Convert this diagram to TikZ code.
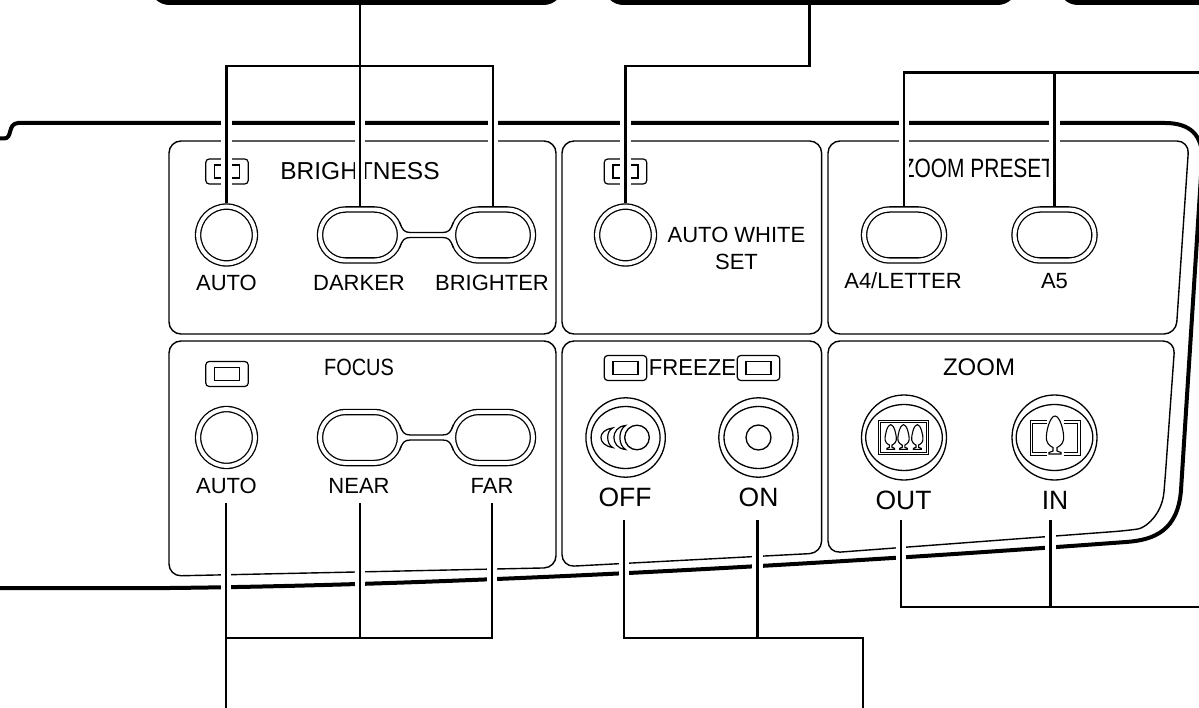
\documentclass[tikz,border=0pt]{standalone}
\usepackage{fontspec}
\setmainfont{Liberation Sans}
\usetikzlibrary{calc, positioning, shapes.misc}

\tikzset{
  panel/.style={draw, line width=1.4pt, rounded corners=12pt},
  housing/.style={draw, line width=4pt},
  topbox/.style={draw, line width=6pt, rounded corners=17pt, minimum height=84pt, minimum width=408pt},
  wire/.style={draw, line width=2.4pt, preaction={draw=white, line width=10.5pt}},
  btnround/.style={draw, circle, line width=1.3pt, double, double distance=3.9pt, minimum size=56.8pt, inner sep=0pt, outer sep=3.3pt},
  btnpill/.style={draw, rounded rectangle, line width=1.3pt, double, double distance=3.9pt, minimum width=80pt, minimum height=51pt, inner sep=0pt, outer sep=3.3pt},
  btnbig/.style={draw, circle, line width=1.3pt, inner sep=0pt, minimum size=#1},
  iconbox/.style={draw, line width=1.2pt, rounded corners=3.5pt, minimum width=42.5pt, minimum height=25pt, inner sep=0pt},
  iconin/.style={draw, line width=1.4pt, minimum width=25pt, minimum height=13pt, inner sep=0pt},
  lbl/.style={inner sep=0pt, align=center, font=\fontsize{22}{27}\selectfont},
  lblbig/.style={inner sep=0pt, font=\fontsize{26.5}{30}\selectfont},
  head/.style={inner sep=0pt, transform shape, xscale=#1},
  zoomtree/.pic={
    \draw[line width=1.1pt, fill=white] (0,-38) .. controls (5,-38) and (9.5,-22) .. (8.5,-14)
      .. controls (7.5,-9) and (3,-7) .. (2,-6.5) -- (2,-3) -- (6,-1.5) -- (6,0) -- (-6,0) -- (-6,-1.5) -- (-2,-3) -- (-2,-6.5)
      .. controls (-3,-7) and (-7.5,-9) .. (-8.5,-14) .. controls (-9.5,-22) and (-5,-38) .. (0,-38) -- cycle;
  }
}

\newcommand{\btnbridge}[2]{
  \path[fill=white] ($(#1.east)+(-3.9,-13)$) .. controls ($(#1.east)+(-1,-5)$) and ($(#1.east)+(1,-2.5)$) .. ($(#1.east)+(7,-2.5)$)
    -- ($(#2.west)+(-7,-2.5)$) .. controls ($(#2.west)+(-1,-2.5)$) and ($(#2.west)+(1,-5)$) .. ($(#2.west)+(3.9,-13)$)
    -- ($(#2.west)+(3.9,13)$) .. controls ($(#2.west)+(1,5)$) and ($(#2.west)+(-1,2.5)$) .. ($(#2.west)+(-7,2.5)$)
    -- ($(#1.east)+(7,2.5)$) .. controls ($(#1.east)+(1,2.5)$) and ($(#1.east)+(-1,5)$) .. ($(#1.east)+(-3.9,13)$) -- cycle;
  \draw[line width=1.3pt] ($(#1.east)+(-3.9,-13)$) .. controls ($(#1.east)+(-1,-5)$) and ($(#1.east)+(1,-2.5)$) .. ($(#1.east)+(7,-2.5)$)
    -- ($(#2.west)+(-7,-2.5)$) .. controls ($(#2.west)+(-1,-2.5)$) and ($(#2.west)+(1,-5)$) .. ($(#2.west)+(3.9,-13)$);
  \draw[line width=1.3pt] ($(#2.west)+(3.9,13)$) .. controls ($(#2.west)+(1,5)$) and ($(#2.west)+(-1,2.5)$) .. ($(#2.west)+(-7,2.5)$)
    -- ($(#1.east)+(7,2.5)$) .. controls ($(#1.east)+(1,2.5)$) and ($(#1.east)+(-1,5)$) .. ($(#1.east)+(-3.9,13)$);
}

\begin{document}
\begin{tikzpicture}[x=1pt, y=-1pt]
  \path[use as bounding box, clip] (0,0) rectangle (1199,708);

  \node[topbox] (boxa) at (356.5,-40) {};
  \node[topbox] (boxb) at (810.5,-40) {};
  \node[topbox] (boxc) at (1265,-40) {};

  \draw[housing] (0,138.5) -- (4,138.5) .. controls (13,138.5) and (7,124) .. (18,123) -- (1165,123)
    .. controls (1190,123) and (1203,135) .. (1202,160) -- (1181,490)
    .. controls (1178,530) and (1155,540) .. (1126,542)
    .. controls (800,566) and (450,585) .. (170,588) -- (0,588);

  \draw[panel] (169,141) -- (556,141) -- (556,334) -- (169,334) -- cycle;
  \draw[panel] (562,141) -- (821.6,141) -- (821.6,334) -- (562,334) -- cycle;
  \draw[panel] (828,141) -- (1189,141) -- (1176,334) -- (828,334) -- cycle;
  \draw[panel] (169,341) -- (556,341) -- (556,567.7) -- (169,576) -- cycle;
  \draw[panel] (562,341) -- (821.6,341) -- (821.6,553) -- (562,566.7) -- cycle;
  \draw[panel] (828,341) -- (1175,341) -- (1165,480) .. controls (1162,515) and (1145,528) .. (1126,530.7) -- (828,553) -- cycle;

  \node[iconbox] (iconbrt) at (227,171.5) {};
  \node[iconin] (iconbrtin) at (iconbrt) {};
  \node[iconbox] (iconaws) at (625.5,171.5) {};
  \node[iconin] (iconawsin) at (iconaws) {};
  \node[iconbox] (iconfoc) at (227,374) {};
  \node[iconin] (iconfocin) at (iconfoc) {};
  \node[iconbox] (iconfra) at (625.5,368) {};
  \node[iconin] (iconfrain) at (iconfra) {};
  \node[iconbox] (iconfrb) at (758.5,368) {};
  \node[iconin] (iconfrbin) at (iconfrb) {};

  \node[font=\fontsize{24.5}{28}\selectfont, inner sep=0pt] (brttitle) at (360,171) {BRIGHTNESS};
  \node[font=\fontsize{26.5}{30}\selectfont, head=.79] (zptitle) at (978,168) {ZOOM PRESET};
  \node[font=\fontsize{23.5}{28}\selectfont, head=.85] (foctitle) at (359,367) {FOCUS};
  \node[font=\fontsize{23}{28}\selectfont, head=.96] (frztitle) at (692.5,367.7) {FREEZE};
  \node[font=\fontsize{24}{28}\selectfont, inner sep=0pt] (zoomtitle) at (979,367) {ZOOM};

  \node[btnround] (brtauto) at (226.5,235) {};
  \node[btnpill] (darker) at (360,235) {};
  \node[btnpill] (brighter) at (493,235) {};
  \btnbridge{darker}{brighter}
  \node[btnround] (aws) at (625.5,235) {};
  \node[btnpill] (afour) at (904,235) {};
  \node[btnpill] (afive) at (1054.5,235) {};

  \node[btnround] (focauto) at (226.5,437.5) {};
  \node[btnpill] (near) at (360,437.5) {};
  \node[btnpill] (far) at (493,437.5) {};
  \btnbridge{near}{far}

  \node[btnbig=79.4pt] (frzoff) at (625.6,437.5) {};
  \draw[line width=1.3pt] (frzoff.center) ellipse [x radius=34.5, y radius=31];
  \node[btnbig=24.6pt] (frzoffdot) at (637,437.5) {};
  \draw[line width=1.2pt] (625.5,425.5) .. controls (610,427) and (610,448) .. (625.5,449.5)
    .. controls (618,445) and (618,430) .. cycle;
  \draw[line width=1.2pt] (612.7,428) .. controls (597,430) and (597,445) .. (612.7,447.5)
    .. controls (606,444) and (606,431) .. cycle;
  \node[btnbig=79.4pt] (frzon) at (758.5,437.5) {};
  \draw[line width=1.3pt] (frzon.center) ellipse [x radius=34.5, y radius=31];
  \node[btnbig=25pt] (frzondot) at (758.5,437.5) {};

  \node[btnbig=85pt] (zout) at (904,437.5) {};
  \draw[line width=1.3pt] (zout.center) ellipse [x radius=38.3, y radius=33];
  \draw[line width=.9pt, double, double distance=1.4pt] (879.5,421.5) rectangle (927.5,453.5);
  \pic[scale=.65] at (890.7,449.3) {zoomtree};
  \pic[scale=.65] at (903.5,449.3) {zoomtree};
  \pic[scale=.65] at (917.3,449.3) {zoomtree};

  \node[btnbig=85pt] (zin) at (1054.5,437.5) {};
  \draw[line width=1.3pt] (zin.center) ellipse [x radius=38.3, y radius=33];
  \draw[line width=.9pt, double, double distance=1.4pt] (1046.5,422) -- (1031.5,422) -- (1031.5,454) -- (1046.5,454);
  \draw[line width=.9pt, double, double distance=1.4pt] (1063.5,422) -- (1079,422) -- (1079,454) -- (1063.5,454);
  \pic at (1055,454) {zoomtree};

  \node[lbl] (lblbrtauto) at (226.5,283) {AUTO};
  \node[lbl] (lbldarker) at (359,283) {DARKER};
  \node[lbl] (lblbrighter) at (492,283) {BRIGHTER};
  \node[lbl] (lblaws) at (736.5,248) {AUTO WHITE\\SET};
  \node[lbl] (lblafour) at (903,281) {A4/LETTER};
  \node[lbl] (lblafive) at (1054.5,281) {A5};
  \node[lbl] (lblfocauto) at (226.5,485.7) {AUTO};
  \node[lbl] (lblnear) at (359,485.7) {NEAR};
  \node[lbl] (lblfar) at (492,485.7) {FAR};
  \node[lblbig] (lbloff) at (625,497.7) {OFF};
  \node[lblbig] (lblon) at (758.5,497.7) {ON};
  \node[lblbig] (lblout) at (903.5,500.7) {OUT};
  \node[lblbig] (lblin) at (1055,500.7) {IN};

  \coordinate (barbrt) at (360,66);
  \coordinate (baraws) at (809.5,66);
  \coordinate (endzp) at (1205,72.7);
  \coordinate (topfauto) at (226,503);
  \coordinate (topnear) at (360,503);
  \coordinate (topfar) at (492,503);
  \coordinate (barfoc) at (360,638);
  \coordinate (endfoc) at (226,715);
  \coordinate (topoff) at (624,520);
  \coordinate (topon) at (757.6,520);
  \coordinate (endfrz) at (863,715);
  \coordinate (topout) at (901,520);
  \coordinate (topin) at (1050.6,520);
  \coordinate (endzm) at (1205,607);

  \draw[wire] (brtauto.north) |- (barbrt) -| (brighter.north) (darker.north) -- (darker.north |- boxa.south);
  \draw[wire] (aws.north) |- (baraws) -- (baraws |- boxb.south);
  \draw[wire] (afour.north) |- (endzp) (afive.north) -- (afive.north |- endzp);
  \draw[wire] (topfauto) |- (barfoc) -| (topfar) (topnear) -- (barfoc) (topfauto |- barfoc) -- (endfoc);
  \draw[wire] (topoff) |- (endfrz |- barfoc) -- (endfrz) (topon) -- (topon |- barfoc);
  \draw[wire] (topout) |- (endzm) (topin) -- (topin |- endzm);
\end{tikzpicture}
\end{document}
